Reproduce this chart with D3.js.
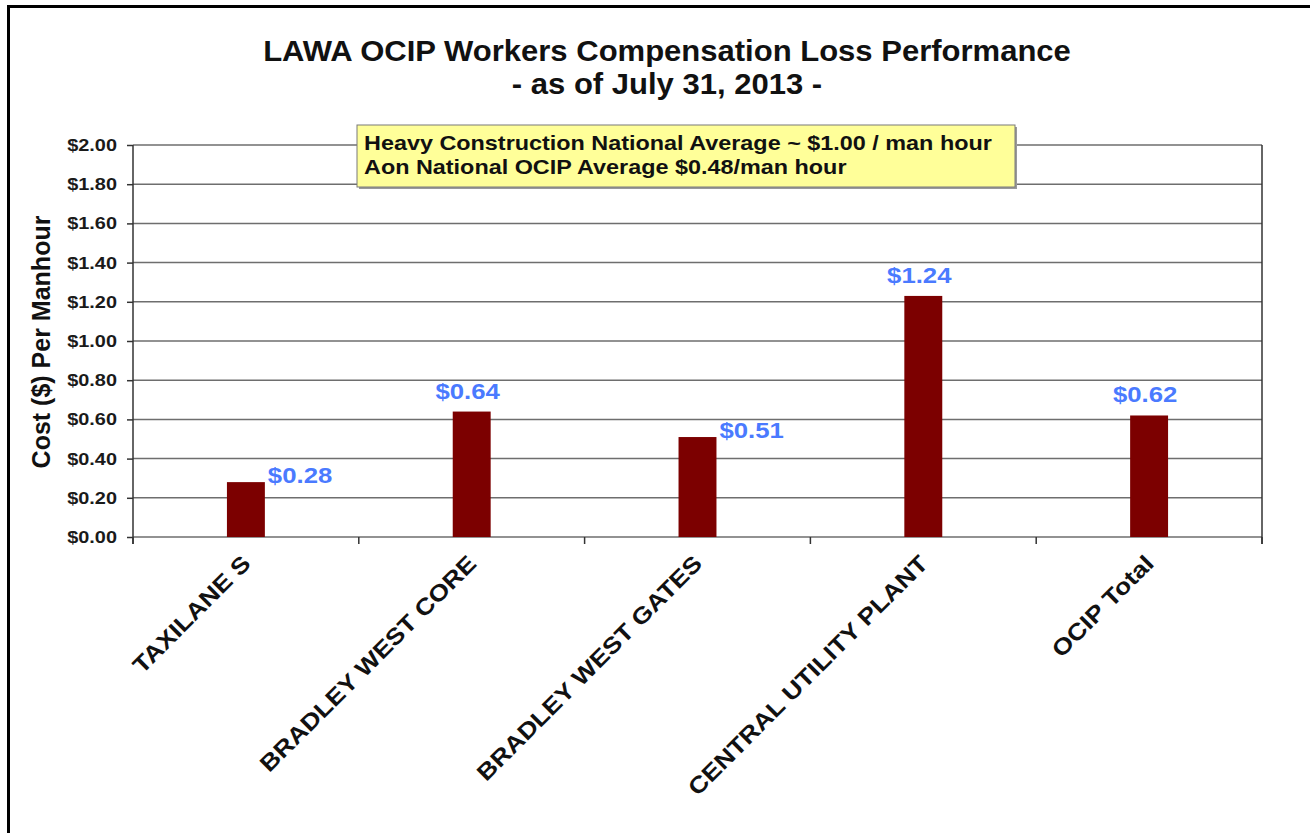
<!DOCTYPE html>
<html>
<head>
    <meta charset="utf-8">
    <title>LAWA OCIP Workers Compensation Loss Performance</title>
    <script src="https://d3js.org/d3.v7.min.js"></script>
    <style>
        body { margin: 0; background: white; }
        svg { display: block; font-family: "Liberation Sans", Arial, sans-serif; }
    </style>
</head>
<body>
    <svg id="chart"></svg>

    <script>
        // chart data
        const categories = ["TAXILANE S", "BRADLEY WEST CORE", "BRADLEY WEST GATES", "CENTRAL UTILITY PLANT", "OCIP Total"];
        const costs = [0.28, 0.64, 0.51, 1.23, 0.62];
        const valueLabels = ["$0.28", "$0.64", "$0.51", "$1.24", "$0.62"];
        const yTicks = [0, 0.2, 0.4, 0.6, 0.8, 1.0, 1.2, 1.4, 1.6, 1.8, 2.0];
        const titleLines = ["LAWA OCIP Workers Compensation Loss Performance", "- as of July 31, 2013 -"];
        const noteLines = ["Heavy Construction National Average ~ $1.00 / man hour", "Aon National OCIP Average $0.48/man hour"];

        // which side the value label sits on
        const labelSide = ["right", "above", "right", "above", "above"];

        const width = 1310, height = 833;
        const plot = { left: 133, right: 1262, top: 145, bottom: 537 };
        // the source picture is stretched sideways, so text gets widened a bit
        const stretch = 1.17;

        const svg = d3.select("#chart")
            .attr("width", width)
            .attr("height", height);

        // frame (top and left black edges)
        svg.append("line")
            .attr("x1", 7).attr("x2", width)
            .attr("y1", 6.5).attr("y2", 6.5)
            .attr("stroke", "black").attr("stroke-width", 3);
        svg.append("line")
            .attr("x1", 8.5).attr("x2", 8.5)
            .attr("y1", 5).attr("y2", height)
            .attr("stroke", "black").attr("stroke-width", 3);

        const x = d3.scaleBand()
            .domain(categories)
            .range([plot.left, plot.right])
            .paddingInner(0.832)
            .paddingOuter(0.416);

        const y = d3.scaleLinear()
            .domain([0, 2])
            .range([plot.bottom, plot.top]);

        // gridlines
        svg.append("g")
            .selectAll("line")
            .data(yTicks)
            .join("line")
            .attr("x1", plot.left).attr("x2", plot.right)
            .attr("y1", d => y(d)).attr("y2", d => y(d))
            .attr("stroke", "#6e6e6e")
            .attr("stroke-width", 1.5);

        // y axis
        const yAxis = svg.append("g")
            .attr("transform", `translate(${plot.left},0)`)
            .call(d3.axisLeft(y)
                .tickValues(yTicks)
                .tickSize(6)
                .tickPadding(7.7)
                .tickFormat(d => "$" + d.toFixed(2)));
        yAxis.select(".domain").remove();
        yAxis.selectAll(".tick line").attr("stroke", "#333").attr("stroke-width", 1.5);
        yAxis.selectAll(".tick text")
            .attr("transform", `scale(${stretch},1)`)
            .attr("font-size", "17px")
            .attr("font-weight", "bold")
            .attr("fill", "#1a1a1a")
            .attr("font-family", "'Liberation Sans', Arial, sans-serif");

        // left and right vertical edges
        svg.append("line")
            .attr("x1", plot.left).attr("x2", plot.left)
            .attr("y1", plot.top).attr("y2", plot.bottom + 7)
            .attr("stroke", "#333").attr("stroke-width", 1.5);
        svg.append("line")
            .attr("x1", plot.right).attr("x2", plot.right)
            .attr("y1", plot.top).attr("y2", plot.bottom + 7)
            .attr("stroke", "#333").attr("stroke-width", 1.5);

        // x axis boundary ticks
        const boundaries = d3.range(categories.length + 1).map(i => plot.left + i * x.step());
        svg.append("g")
            .selectAll("line")
            .data(boundaries)
            .join("line")
            .attr("x1", d => d).attr("x2", d => d)
            .attr("y1", plot.bottom).attr("y2", plot.bottom + 7)
            .attr("stroke", "#333").attr("stroke-width", 1.5);

        // bars
        svg.append("g")
            .selectAll("rect")
            .data(costs)
            .join("rect")
            .attr("x", (d, i) => x(categories[i]))
            .attr("y", d => y(d))
            .attr("width", x.bandwidth())
            .attr("height", d => y(0) - y(d))
            .attr("fill", "#7c0000");

        // value labels
        svg.append("g")
            .selectAll("text")
            .data(costs)
            .join("text")
            .attr("transform", (d, i) => {
                const lx = labelSide[i] === "right"
                    ? x(categories[i]) + x.bandwidth() + 3
                    : x(categories[i]) + x.bandwidth() / 2 - 4;
                const ly = labelSide[i] === "right" ? y(d) + 1 : y(d) - 13;
                return `translate(${lx},${ly}) scale(${stretch},1)`;
            })
            .attr("text-anchor", (d, i) => labelSide[i] === "right" ? "start" : "middle")
            .attr("font-size", "22px")
            .attr("font-weight", "bold")
            .attr("fill", "#4a7aff")
            .text((d, i) => valueLabels[i]);

        // category labels
        svg.append("g")
            .selectAll("text")
            .data(categories)
            .join("text")
            .attr("transform", d => `translate(${x(d) + x.bandwidth() / 2 + 6},${plot.bottom + 28}) rotate(-45) scale(1.15,1)`)
            .attr("text-anchor", "end")
            .attr("font-size", "23px")
            .attr("font-weight", "bold")
            .attr("fill", "#111")
            .text(d => d);

        // y axis title
        svg.append("text")
            .attr("transform", `translate(50,${(plot.top + plot.bottom) / 2 + 1}) rotate(-90)`)
            .attr("text-anchor", "middle")
            .attr("font-size", "25px")
            .attr("font-weight", "bold")
            .attr("fill", "#111")
            .text("Cost ($) Per Manhour");

        // title
        svg.append("g")
            .selectAll("text")
            .data(titleLines)
            .join("text")
            .attr("transform", (d, i) => `translate(667,${61 + i * 33}) scale(1.07,1)`)
            .attr("text-anchor", "middle")
            .attr("font-size", "29px")
            .attr("font-weight", "bold")
            .attr("fill", "#111")
            .text(d => d);

        // note box
        svg.append("rect")
            .attr("x", 359).attr("y", 127)
            .attr("width", 658).attr("height", 62)
            .attr("fill", "#9a9a9a");
        svg.append("rect")
            .attr("x", 357).attr("y", 125)
            .attr("width", 658).attr("height", 62)
            .attr("fill", "#ffff99")
            .attr("stroke", "#7a7a7a")
            .attr("stroke-width", 1);
        svg.append("g")
            .selectAll("text")
            .data(noteLines)
            .join("text")
            .attr("transform", (d, i) => `translate(364,${150 + i * 24}) scale(${stretch},1)`)
            .attr("font-size", "20px")
            .attr("font-weight", "bold")
            .attr("fill", "#111")
            .text(d => d);
    </script>
</body>
</html>
